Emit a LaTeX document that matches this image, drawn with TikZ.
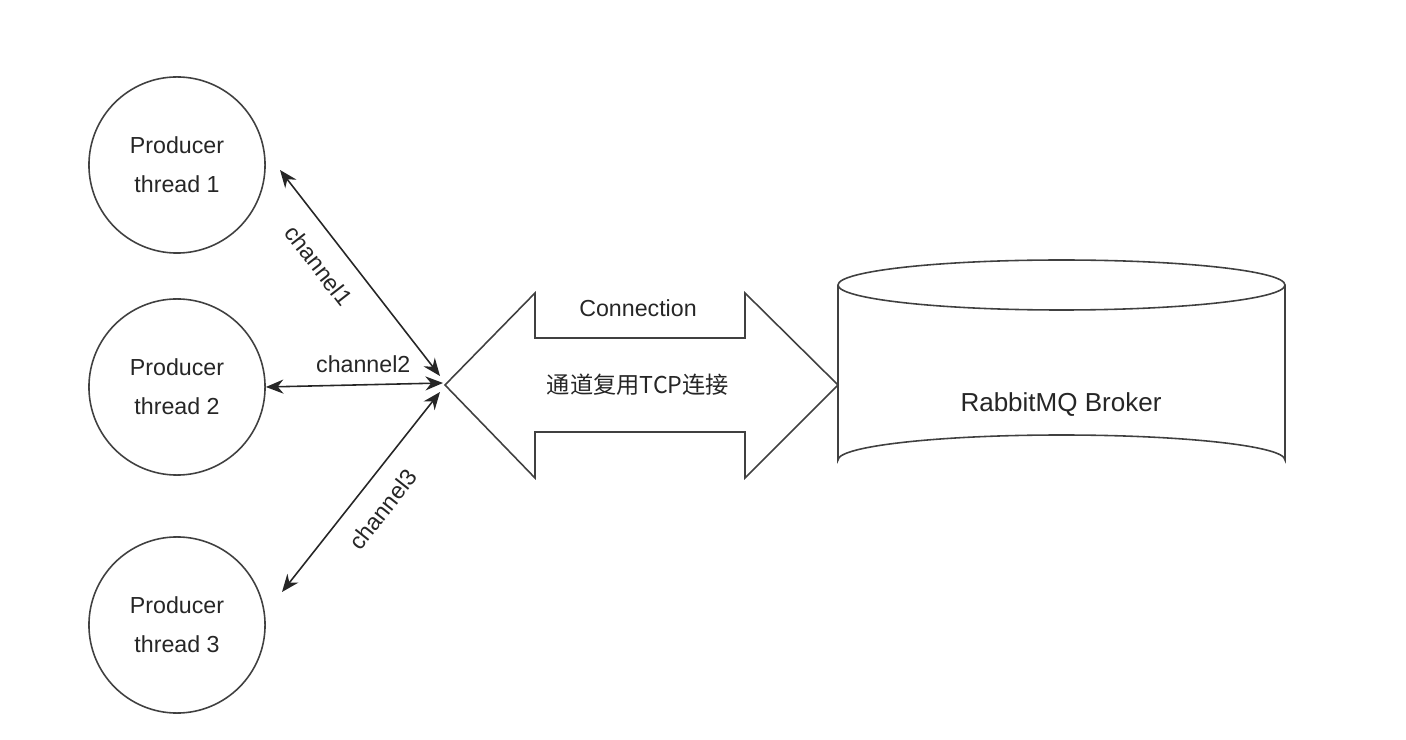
\documentclass[tikz,border=0pt]{standalone}
\usepackage{fontspec}
\setmainfont{Liberation Sans}
\newfontfamily\cjk{Noto Sans CJK SC}
\usetikzlibrary{arrows.meta}
\begin{document}
\begin{tikzpicture}[x=0.01cm,y=-0.01cm,line width=0.45pt,draw=black!75,
  every node/.style={font=\fontsize{6.6}{8}\selectfont,text=black!85},
  prod/.style={circle,draw=black!75,minimum size=1.76cm,align=center,inner sep=0pt},
  chan/.style={{Stealth[length=5pt,width=4pt]}-{Stealth[length=5pt,width=4pt]},draw=black!85}]
\useasboundingbox (0,0) rectangle (1406,740);
\node[prod] (p1) at (177,165) {Producer\\[3pt]thread 1};
\node[prod] (p2) at (177,387) {Producer\\[3pt]thread 2};
\node[prod] (p3) at (177,625) {Producer\\[3pt]thread 3};
\coordinate (hub) at (443,383);
\coordinate (h1) at (440,376);
\coordinate (h3) at (440,392);
\coordinate (e1) at (280,170);
\coordinate (e3) at (282,592);
\draw[chan] (h1) -- (e1) node[pos=0.62,sloped,below=2pt] {channel1};
\draw[chan] (hub) -- (p2.east) node[pos=0.45,above=0pt] {channel2};
\draw[chan] (h3) -- (e3) node[pos=0.5,sloped,below=2pt] {channel3};
% big double arrow
\draw (445,385) -- (535,293) -- (535,338) -- (745,338) -- (745,293) -- (838,385)
  -- (745,478) -- (745,432) -- (535,432) -- (535,478) -- cycle;
\node (conn) at (638,308) {Connection};
\node (mux) at (638,385) {\cjk 通道复用TCP连接};
% cylinder
\draw (838,285) -- (838,460) arc[start angle=180,end angle=360,x radius=223.5,y radius=25] -- (1285,285);
\draw (1061.5,285) ellipse[x radius=223.5,y radius=25];
\node (broker) at (1061,405) {\fontsize{7.4}{9}\selectfont RabbitMQ Broker};
\end{tikzpicture}
\end{document}
